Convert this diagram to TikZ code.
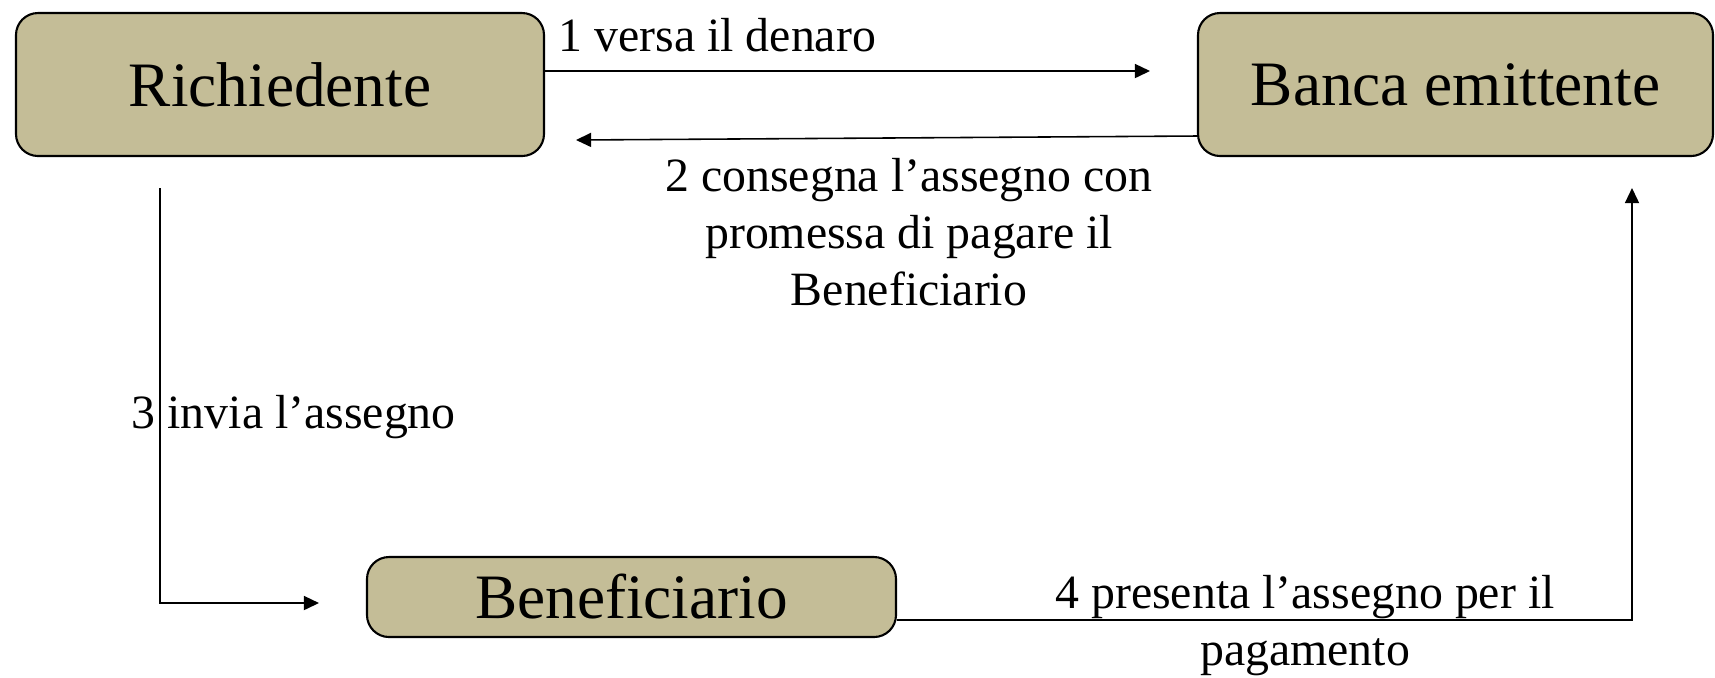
\documentclass[tikz,border=0pt]{standalone}
\usepackage{fontspec}
\setmainfont{Liberation Serif}
\usetikzlibrary{arrows.meta}
\definecolor{boxtan}{HTML}{C4BD97}
\begin{document}
\begin{tikzpicture}[box/.style={draw,fill=boxtan,rounded corners=.22cm,line width=.6pt,inner sep=0pt,font=\fontsize{18}{21.6}\selectfont},
  lbl/.style={inner sep=0pt,font=\fontsize{13.6}{16.2}\selectfont},
  >={Triangle[length=4.3pt,width=4pt]}, line width=.45pt]
\useasboundingbox (0,0) rectangle (17.15,-6.77);
\node[box,minimum width=5.28cm,minimum height=1.43cm] (rich) at (2.80,-.845) {Richiedente};
\node[box,minimum width=5.15cm,minimum height=1.43cm] (banca) at (14.555,-.845) {Banca emittente};
\node[box,minimum width=5.29cm,minimum height=.80cm] (benef) at (6.315,-5.97) {Beneficiario};
\coordinate (e1) at (11.50,-.71);
\coordinate (e2) at (5.76,-1.40);
\coordinate (s3) at (1.60,-1.88);
\coordinate (e3) at (3.19,-6.03);
\coordinate (e4) at (16.32,-1.88);
\draw[->] (rich.east |- e1) -- (e1);
\draw[->] ([yshift=-.515cm]banca.west) -- (e2);
\draw[->] (s3) |- (e3);
\draw[->] ([yshift=-.23cm]benef.east) -| (e4);
\node[lbl,anchor=base west] (l1) at (5.58,-.515) {1 versa il denaro};
\node[lbl,anchor=north,align=center] (l2) at (9.09,-1.58) {2 consegna l'assegno con\\promessa di pagare il\\Beneficiario};
\node[lbl,anchor=base west] (l3) at (1.31,-4.28) {3 invia l'assegno};
\node[lbl,anchor=north,align=center] (l4) at (13.05,-5.75) {4 presenta l'assegno per il\\pagamento};
\end{tikzpicture}
\end{document}
